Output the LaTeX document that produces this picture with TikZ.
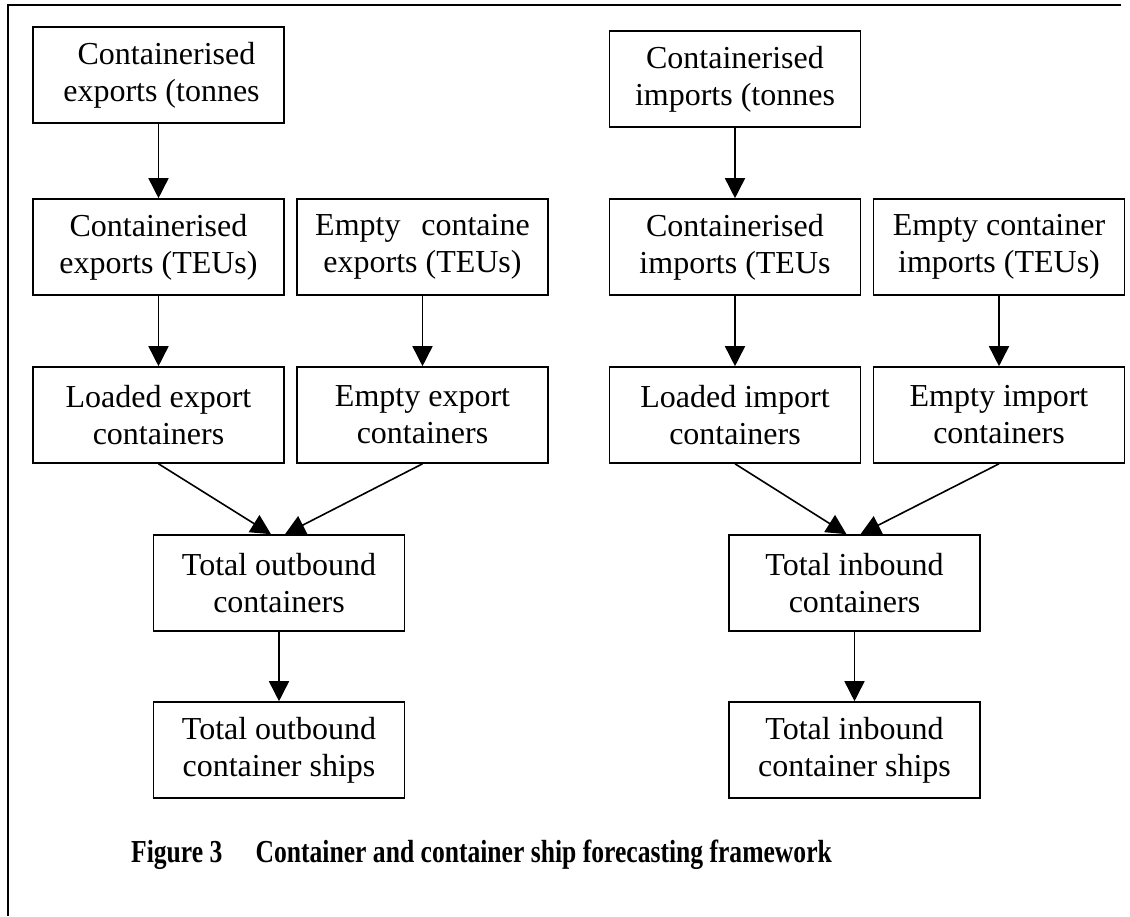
\documentclass[tikz,border=0pt]{standalone}
\usepackage{fontspec}
\setmainfont{Liberation Serif}
\usetikzlibrary{arrows.meta,positioning}

\begin{document}
\begin{tikzpicture}[x=0.5pt,y=-0.5pt,->,>={Triangle[width=10pt,length=10pt]},
                    line width=0.8pt,node distance=84pt,
                    box/.style={draw,-,minimum width=125.5pt,minimum height=48pt,
                      inner sep=0pt,align=center,font=\fontsize{16}{18.5}\selectfont}]
  \useasboundingbox (0,0) rectangle (1130,916);
  \draw[-,line width=1pt] (1121,5) -- (8,5) -- (8,916);

  % outbound side
  \node[box] (ex1) at (158.5,75) {\hspace*{8pt}Containerised\\\hspace*{3pt}exports (tonnes};
  \node[box] (ex2) [below of=ex1,node distance=86pt] {Containerised\\exports (TEUs)};
  \node[box] (ee2) [right of=ex2,node distance=132pt] {Empty\hspace{0.65em}containe\\exports (TEUs)};
  \node[box] (ex3) [below of=ex2] {Loaded export\\containers};
  \node[box] (ee3) [below of=ee2] {Empty export\\containers};
  \node[box] (ext) [below of=ex3,xshift=60.25pt] {Total outbound\\containers};
  \node[box] (exs) [below of=ext,node distance=83.5pt] {Total outbound\\container ships};

  % inbound side
  \node[box] (im1) at (735,79) {Containerised\\imports (tonnes};
  \node[box] (im2) [below of=im1] {Containerised\\imports (TEUs};
  \node[box] (ie2) [right of=im2,node distance=132pt] {Empty container\\imports (TEUs)};
  \node[box] (im3) [below of=im2] {Loaded import\\containers};
  \node[box] (ie3) [below of=ie2] {Empty import\\containers};
  \node[box] (imt) [below of=im3,xshift=59.75pt] {Total inbound\\containers};
  \node[box] (ims) [below of=imt,node distance=83.5pt] {Total inbound\\container ships};

  \path (ex1) edge (ex2)
        (ex2) edge (ex3)
        (ee2) edge (ee3)
        (ex3.south) edge ([xshift=-4pt]ext.north)
        (ee3.south) edge ([xshift=3pt]ext.north)
        (ext) edge (exs);
  \path (im1) edge (im2)
        (im2) edge (im3)
        (ie2) edge (ie3)
        (im3.south) edge ([xshift=-4pt]imt.north)
        (ie3.south) edge ([xshift=3pt]imt.north)
        (imt) edge (ims);

  \node (cap) at (481.5,855) {\scalebox{0.8}[1]{\fontsize{16}{18}\selectfont\bfseries
    Figure 3\hspace{1.3em}Container and container ship forecasting framework}};
\end{tikzpicture}
\end{document}
